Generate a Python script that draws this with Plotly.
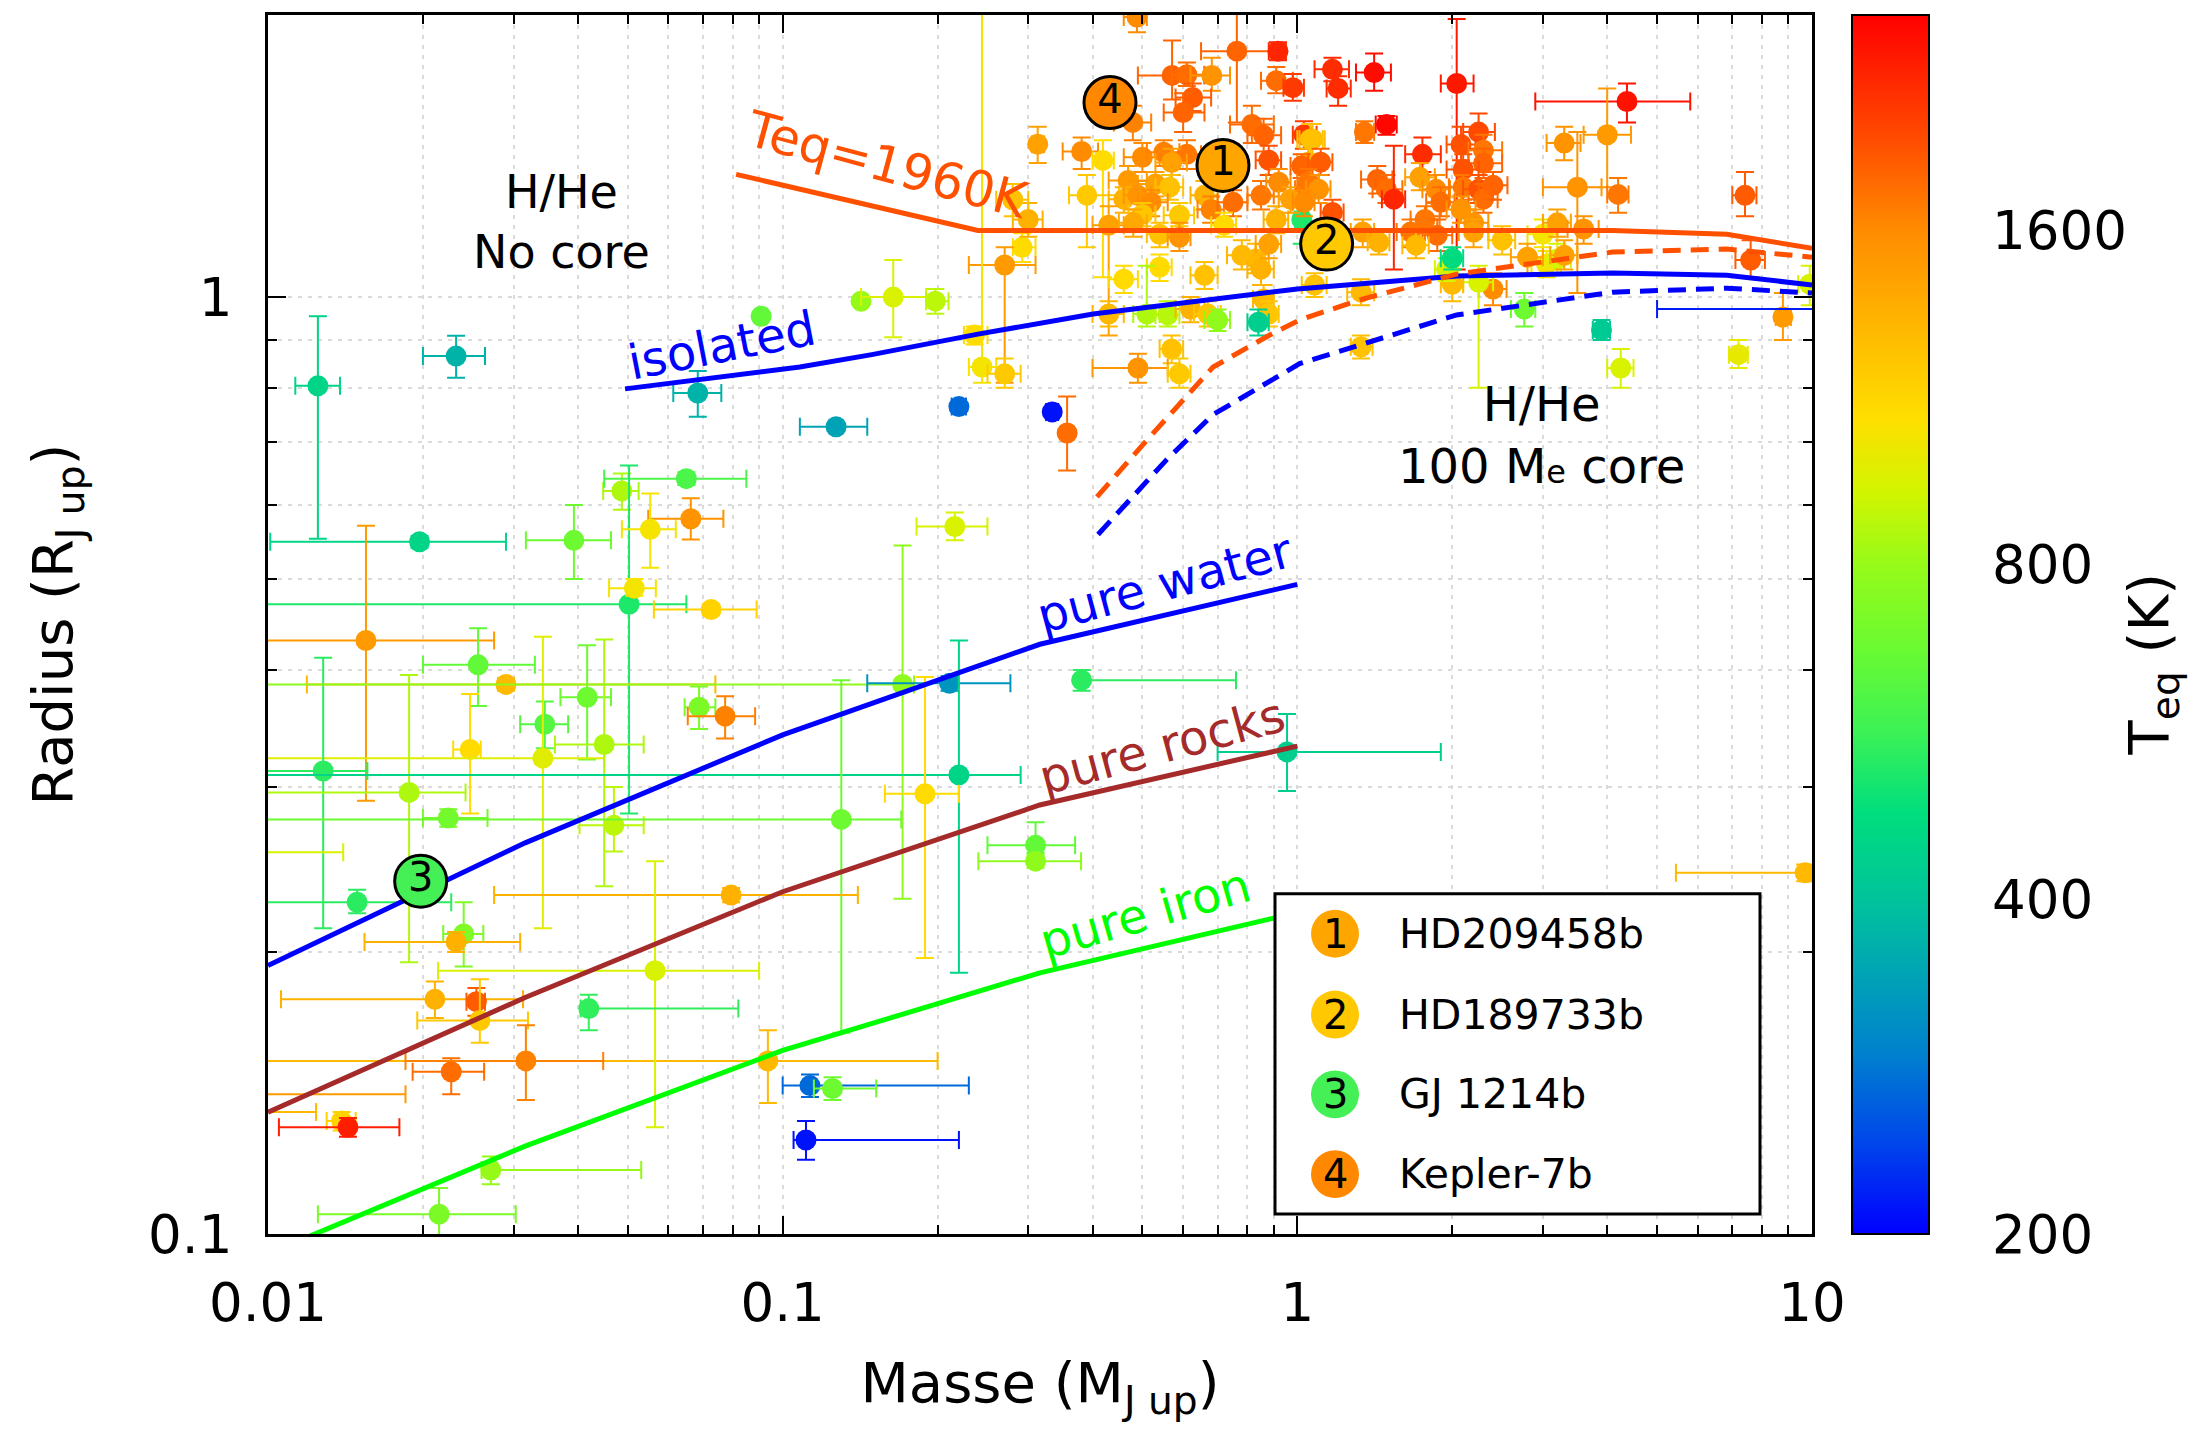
import numpy as np
import plotly.graph_objects as go
from plotly.colors import sample_colorscale

# ---------------- ticks / ranges ----------------
x_tickvals = [0.01, 0.1, 1, 10]
x_ticktext = ["0.01", "0.1", "1", "10"]
x_minor = [a * b for b in (0.01, 0.1, 1) for a in range(2, 10)]
y_tickvals = [0.1, 1]
y_ticktext = ["0.1", "1"]
y_minor = [0.2, 0.3, 0.4, 0.5, 0.6, 0.7, 0.8, 0.9, 2.0]
teq_ticks = [200, 400, 800, 1600]
teq_min, teq_max = 200, 2500

# ---------------- model curves ----------------
teq1960_mass = [0.0812, 0.149, 0.2395, 1.0, 4.10, 6.83, 10.0]
teq1960_radius = [1.352, 1.253, 1.178, 1.178, 1.178, 1.167, 1.127]
isolated_mass = [0.0494, 0.108, 0.149, 0.2395, 0.401, 1.0, 2.04, 4.10, 6.83, 10.0]
isolated_radius = [0.798, 0.842, 0.868, 0.913, 0.959, 1.02, 1.053, 1.061, 1.055, 1.03]
core_hot_mass = [0.408, 0.513, 0.686, 0.884, 1.01, 1.32, 2.04, 4.10, 6.83, 10.0]
core_hot_radius = [0.612, 0.706, 0.842, 0.911, 0.945, 0.993, 1.058, 1.117, 1.125, 1.103]
core_iso_mass = [0.41, 0.558, 0.686, 1.01, 2.04, 4.10, 6.83, 10.0]
core_iso_radius = [0.558, 0.671, 0.749, 0.849, 0.957, 1.012, 1.022, 1.01]
water_mass = [0.01, 0.0316, 0.1, 0.316, 1.0]
water_radius = [0.1934, 0.2615, 0.341, 0.426, 0.4935]
rocks_mass = [0.01, 0.0316, 0.1, 0.316, 1.0]
rocks_radius = [0.1349, 0.1788, 0.2319, 0.287, 0.3317]
iron_mass = [0.01, 0.0316, 0.1, 0.316, 1.0]
iron_radius = [0.0953, 0.1241, 0.157, 0.190, 0.2203]

# ---------------- highlighted planets ----------------
highlight_labels = ["1", "2", "3", "4"]
highlight_names = ["HD209458b", "HD189733b", "GJ 1214b", "Kepler-7b"]
highlight_mass = [0.717, 1.14, 0.0198, 0.4325]
highlight_radius = [1.382, 1.139, 0.238, 1.613]
highlight_colors = ["#FFA500", "#FFC800", "#44F055", "#FF8800"]

# ---------------- planets: (mass, mass_lo, mass_hi, radius, r_lo, r_hi, Teq) ----------------
planets_upper_left = [
    (0.0125, 0.0113, 0.0138, 0.804, 0.552, 0.954, 450),
    (0.0232, 0.020, 0.0264, 0.865, 0.820, 0.909, 370),
    (0.0908, 0.089, 0.093, 0.954, 0.945, 0.963, 650),
    (0.0684, 0.0613, 0.0760, 0.790, 0.745, 0.834, 370),
]
planets_giants_a = [
    (0.488, 0.46, 0.51, 1.99, 1.917, 2.05, 1600),
    (0.763, 0.65, 0.89, 1.83, 1.536, 2.1, 1800),
    (0.917, 0.88, 0.95, 1.83, 1.79, 1.87, 2200),
    (0.571, 0.49, 0.66, 1.724, 1.625, 1.878, 1800),
    (0.61, 0.57, 0.66, 1.727, 1.68, 1.78, 1750),
    (0.682, 0.62, 0.74, 1.724, 1.66, 1.80, 1550),
    (0.626, 0.58, 0.68, 1.633, 1.58, 1.69, 1850),
    (0.60, 0.55, 0.66, 1.574, 1.50, 1.65, 1800),
    (0.91, 0.85, 0.98, 1.702, 1.65, 1.76, 1750),
    (0.98, 0.94, 1.03, 1.673, 1.62, 1.73, 2050),
    (0.479, 0.44, 0.52, 1.536, 1.47, 1.60, 1650),
    (0.816, 0.74, 0.90, 1.528, 1.46, 1.60, 1750),
    (0.86, 0.80, 0.93, 1.488, 1.43, 1.55, 1800),
    (1.03, 0.98, 1.09, 1.49, 1.44, 1.54, 2050),
    (1.07, 1.01, 1.13, 1.474, 1.42, 1.53, 1300),
    (0.313, 0.305, 0.322, 1.456, 1.39, 1.52, 1450),
    (0.381, 0.35, 0.41, 1.43, 1.37, 1.48, 1600),
    (0.419, 0.40, 0.44, 1.399, 1.05, 1.47, 1100),
    (0.50, 0.46, 0.54, 1.41, 1.36, 1.46, 1600),
    (0.55, 0.51, 0.59, 1.427, 1.38, 1.47, 1650),
    (0.61, 0.57, 0.65, 1.42, 1.37, 1.47, 1700),
    (0.57, 0.53, 0.61, 1.392, 1.35, 1.44, 1450),
    (0.469, 0.43, 0.51, 1.332, 1.29, 1.38, 1500),
    (0.53, 0.49, 0.57, 1.32, 1.28, 1.36, 1450),
    (0.565, 0.53, 0.60, 1.31, 1.27, 1.35, 1250),
    (0.39, 0.36, 0.45, 1.284, 1.13, 1.35, 1200),
    (0.46, 0.43, 0.49, 1.272, 1.23, 1.31, 1350),
    (0.49, 0.46, 0.52, 1.284, 1.24, 1.33, 1550),
    (0.52, 0.49, 0.56, 1.262, 1.22, 1.30, 1600),
    (0.66, 0.62, 0.70, 1.284, 1.24, 1.33, 1350),
    (0.68, 0.64, 0.72, 1.24, 1.20, 1.28, 1650),
    (0.75, 0.70, 0.80, 1.262, 1.22, 1.30, 1750),
    (0.85, 0.80, 0.90, 1.284, 1.24, 1.33, 1700),
    (0.59, 0.55, 0.63, 1.223, 1.19, 1.26, 1200),
    (0.50, 0.47, 0.53, 1.225, 1.19, 1.26, 1220),
    (0.43, 0.40, 0.46, 1.193, 0.91, 1.25, 1450),
    (0.48, 0.45, 0.51, 1.20, 1.16, 1.24, 1400),
    (0.54, 0.51, 0.57, 1.167, 1.13, 1.20, 1250),
    (0.59, 0.56, 0.62, 1.158, 1.12, 1.20, 1550),
    (0.72, 0.68, 0.76, 1.193, 1.16, 1.23, 1100),
    (0.91, 0.86, 0.96, 1.21, 1.17, 1.25, 1350),
    (1.02, 0.99, 1.05, 1.21, 1.14, 1.27, 520),
    (0.292, 0.28, 0.31, 1.13, 1.09, 1.17, 1100),
    (0.30, 0.28, 0.32, 1.21, 1.16, 1.26, 1350),
    (0.28, 0.26, 0.30, 1.27, 1.22, 1.32, 1250),
    (0.27, 0.23, 0.31, 1.082, 0.81, 1.13, 1500),
    (0.54, 0.51, 0.57, 1.076, 1.04, 1.11, 1100),
    (0.46, 0.43, 0.49, 1.045, 1.01, 1.08, 1100),
    (0.66, 0.62, 0.70, 1.055, 1.02, 1.09, 1250),
    (0.78, 0.73, 0.83, 1.108, 1.07, 1.15, 1300),
    (0.83, 0.78, 0.88, 1.098, 1.06, 1.14, 1300),
    (0.85, 0.80, 0.90, 1.071, 1.03, 1.11, 1350),
    (0.88, 0.83, 0.93, 1.139, 1.10, 1.18, 1450),
    (0.86, 0.82, 0.90, 0.995, 0.96, 1.03, 1300),
    (0.88, 0.84, 0.92, 0.959, 0.93, 0.99, 1220),
    (0.43, 0.40, 0.46, 0.959, 0.93, 0.99, 1300),
    (0.51, 0.48, 0.54, 0.959, 0.93, 1.08, 850),
    (0.56, 0.53, 0.59, 0.957, 0.93, 0.99, 870),
    (0.62, 0.58, 0.66, 0.971, 0.94, 1.00, 1350),
    (0.67, 0.63, 0.71, 0.959, 0.93, 0.99, 1220),
    (0.70, 0.66, 0.74, 0.945, 0.92, 0.97, 780),
    (0.84, 0.80, 0.88, 0.94, 0.91, 0.97, 430),
    (0.142, 0.139, 0.145, 0.99, 0.985, 0.995, 800),
    (0.164, 0.142, 0.190, 1.0, 0.906, 1.095, 950),
    (0.198, 0.19, 0.21, 0.99, 0.96, 1.02, 880),
    (0.57, 0.54, 0.60, 0.88, 0.85, 0.91, 1250),
    (0.49, 0.40, 0.56, 0.84, 0.81, 0.87, 1550),
    (0.59, 0.56, 0.62, 0.828, 0.80, 0.86, 1200),
    (0.244, 0.23, 0.26, 0.842, 0.81, 2.2, 1050),
    (0.27, 0.25, 0.29, 0.828, 0.80, 0.86, 1200),
    (0.236, 0.225, 0.25, 0.911, 0.89, 0.93, 1100),
    (0.88, 0.83, 0.93, 1.40, 1.35, 1.45, 1900),
    (0.92, 0.87, 0.97, 1.326, 1.28, 1.37, 1600),
    (1.05, 1.0, 1.1, 1.393, 1.35, 1.44, 1350),
    (1.04, 0.99, 1.09, 1.303, 1.26, 1.35, 1700),
    (0.97, 0.92, 1.02, 1.272, 1.23, 1.31, 1450),
]
planets_giants_b = [
    (1.17, 1.08, 1.26, 1.75, 1.70, 1.80, 2150),
    (1.20, 1.14, 1.27, 1.67, 1.60, 1.72, 2150),
    (1.41, 1.30, 1.52, 1.736, 1.66, 1.82, 2400),
    (2.04, 1.90, 2.20, 1.69, 1.07, 1.98, 2300),
    (4.37, 2.90, 5.80, 1.617, 1.536, 1.69, 2350),
    (1.49, 1.42, 1.56, 1.528, 1.49, 1.56, 2450),
    (1.35, 1.30, 1.41, 1.50, 1.46, 1.54, 1700),
    (1.06, 1.0, 1.12, 1.474, 1.42, 1.53, 1250),
    (1.75, 1.62, 1.90, 1.42, 1.36, 1.48, 2150),
    (2.08, 1.95, 2.22, 1.455, 1.40, 1.52, 1900),
    (2.25, 2.10, 2.42, 1.50, 1.44, 1.57, 1950),
    (2.3, 2.15, 2.5, 1.434, 1.37, 1.49, 1700),
    (2.3, 2.15, 2.5, 1.389, 1.34, 1.44, 1800),
    (2.1, 1.95, 2.25, 1.368, 1.32, 1.42, 1900),
    (1.43, 1.33, 1.53, 1.335, 1.29, 1.38, 1800),
    (1.49, 1.40, 1.60, 1.303, 1.26, 1.35, 1750),
    (1.54, 1.46, 1.62, 1.272, 1.07, 1.45, 2200),
    (1.73, 1.62, 1.85, 1.342, 1.30, 1.39, 1450),
    (1.86, 1.75, 1.98, 1.303, 1.26, 1.35, 1600),
    (1.9, 1.78, 2.02, 1.262, 1.22, 1.31, 1750),
    (2.1, 1.97, 2.24, 1.31, 1.27, 1.35, 1700),
    (2.25, 2.1, 2.4, 1.303, 1.26, 1.35, 1900),
    (2.3, 2.15, 2.45, 1.272, 1.23, 1.32, 1750),
    (2.4, 2.25, 2.56, 1.316, 1.27, 1.36, 1800),
    (2.08, 1.95, 2.22, 1.24, 1.20, 1.28, 1550),
    (1.77, 1.66, 1.89, 1.21, 1.17, 1.25, 1700),
    (2.2, 2.06, 2.35, 1.20, 1.16, 1.24, 1550),
    (1.66, 1.56, 1.77, 1.173, 1.13, 1.21, 1700),
    (1.87, 1.75, 2.0, 1.164, 1.12, 1.21, 1750),
    (1.7, 1.6, 1.8, 1.136, 1.10, 1.18, 1300),
    (2.2, 2.06, 2.35, 1.173, 1.13, 1.21, 1450),
    (2.5, 2.35, 2.65, 1.15, 1.11, 1.19, 1250),
    (3.0, 2.8, 3.2, 1.167, 1.13, 1.21, 1050),
    (3.2, 3.0, 3.4, 1.2, 1.16, 1.24, 1450),
    (3.6, 3.35, 3.85, 1.182, 1.14, 1.22, 1550),
    (3.5, 3.0, 3.9, 1.31, 1.01, 1.5, 1550),
    (3.3, 3.05, 3.55, 1.46, 1.40, 1.52, 1550),
    (4.0, 3.6, 4.45, 1.49, 1.31, 1.67, 1500),
    (4.2, 4.0, 4.4, 1.287, 1.23, 1.34, 1700),
    (7.41, 7.0, 7.8, 1.284, 1.22, 1.36, 1850),
    (7.6, 7.1, 8.1, 1.095, 1.05, 1.15, 1850),
    (9.9, 9.4, 10.4, 1.032, 0.98, 1.08, 950),
    (8.78, 8.5, 9.1, 0.952, 0.90, 1.01, 1500),
    (7.2, 6.9, 7.5, 0.868, 0.84, 0.90, 1000),
    (4.25, 4.0, 4.5, 0.84, 0.80, 0.88, 950),
    (3.9, 3.75, 4.05, 0.922, 0.90, 0.945, 420),
    (2.76, 2.6, 2.9, 0.971, 0.93, 1.01, 680),
    (2.4, 2.25, 2.55, 1.02, 0.98, 1.06, 1600),
    (2.25, 2.1, 2.4, 1.037, 0.80, 1.08, 950),
    (2.0, 1.9, 2.1, 1.032, 0.99, 1.07, 1300),
    (1.95, 1.85, 2.05, 1.071, 1.04, 1.10, 950),
    (2.0, 1.9, 2.1, 1.10, 1.07, 1.13, 470),
    (1.33, 1.25, 1.41, 1.012, 0.98, 1.045, 1300),
    (1.08, 1.02, 1.14, 1.03, 1.0, 1.06, 1250),
    (1.33, 1.27, 1.40, 0.885, 0.86, 0.91, 1250),
    (3.05, 2.85, 3.25, 1.084, 1.05, 1.12, 1050),
    (3.2, 3.0, 3.4, 1.098, 1.06, 1.14, 950),
    (3.3, 3.1, 3.5, 1.108, 1.07, 1.15, 1450),
    (2.8, 2.6, 3.0, 1.103, 1.06, 1.14, 1450),
    (1.02, 0.97, 1.07, 1.38, 1.34, 1.42, 1800),
    (1.11, 1.05, 1.17, 1.393, 1.35, 1.44, 1850),
    (1.05, 1.0, 1.1, 1.326, 1.29, 1.37, 1700),
    (1.10, 1.04, 1.16, 1.303, 1.26, 1.35, 1550),
    (1.03, 0.98, 1.08, 1.262, 1.22, 1.30, 1600),
    (1.17, 1.11, 1.23, 1.231, 1.19, 1.27, 1900),
    (1.34, 1.27, 1.41, 1.173, 1.13, 1.21, 1450),
    (1.44, 1.37, 1.51, 1.144, 1.11, 1.18, 1350),
    (12.0, 5.0, 13.0, 0.971, 0.965, 0.977, 215),
    (9.7, 5.44, 10.2, 0.243, 0.238, 0.248, 1300),
]
planets_mid_small = [
    (0.0197, 0.0101, 0.029, 0.548, 0.54, 0.556, 450),
    (0.0393, 0.0317, 0.0464, 0.55, 0.50, 0.60, 680),
    (0.0487, 0.0448, 0.0525, 0.621, 0.593, 0.648, 850),
    (0.065, 0.045, 0.085, 0.64, 0.63, 0.65, 600),
    (0.0503, 0.005, 0.065, 0.47, 0.281, 0.661, 520),
    (0.0663, 0.0548, 0.0767, 0.58, 0.551, 0.61, 1550),
    (0.0553, 0.0487, 0.062, 0.565, 0.514, 0.617, 1050),
    (0.0515, 0.046, 0.0567, 0.489, 0.48, 0.50, 1050),
    (0.0726, 0.0562, 0.089, 0.464, 0.458, 0.470, 1150),
    (0.0155, 0.009, 0.0275, 0.43, 0.29, 0.57, 1500),
    (0.0256, 0.02, 0.033, 0.405, 0.366, 0.443, 650),
    (0.029, 0.0119, 0.074, 0.386, 0.38, 0.392, 1300),
    (0.0417, 0.037, 0.0464, 0.374, 0.321, 0.425, 680),
    (0.0345, 0.0309, 0.0383, 0.35, 0.33, 0.37, 620),
    (0.0247, 0.0229, 0.0259, 0.329, 0.281, 0.377, 1100),
    (0.0342, 0.005, 0.045, 0.322, 0.212, 0.434, 980),
    (0.045, 0.0361, 0.0537, 0.333, 0.235, 0.431, 850),
    (0.0688, 0.0645, 0.074, 0.365, 0.346, 0.384, 720),
    (0.0773, 0.0654, 0.0884, 0.357, 0.338, 0.375, 1650),
    (0.0128, 0.005, 0.0156, 0.312, 0.212, 0.412, 540),
    (0.0188, 0.005, 0.0242, 0.296, 0.195, 0.395, 850),
    (0.0224, 0.020, 0.0267, 0.278, 0.272, 0.284, 700),
    (0.047, 0.0403, 0.0537, 0.273, 0.256, 0.30, 880),
    (0.008, 0.005, 0.014, 0.2555, 0.253, 0.258, 950),
]
planets_mid_large = [
    (0.127, 0.108, 0.146, 0.727, 0.72, 0.734, 340),
    (0.22, 0.213, 0.227, 0.764, 0.757, 0.771, 270),
    (0.334, 0.325, 0.343, 0.754, 0.747, 0.761, 210),
    (0.357, 0.35, 0.364, 0.716, 0.653, 0.783, 1750),
    (0.216, 0.182, 0.25, 0.569, 0.55, 0.589, 950),
    (0.171, 0.005, 0.18, 0.386, 0.228, 0.543, 780),
    (0.211, 0.146, 0.277, 0.387, 0.38, 0.394, 320),
    (0.381, 0.375, 0.76, 0.390, 0.38, 0.40, 540),
    (0.22, 0.005, 0.29, 0.309, 0.19, 0.43, 450),
    (0.189, 0.158, 0.22, 0.295, 0.197, 0.393, 1100),
    (0.13, 0.005, 0.17, 0.277, 0.164, 0.39, 680),
    (0.955, 0.70, 1.9, 0.327, 0.297, 0.359, 430),
    (0.31, 0.25, 0.37, 0.26, 0.255, 0.275, 650),
    (0.31, 0.24, 0.38, 0.25, 0.246, 0.254, 780),
    (0.113, 0.10, 0.23, 0.144, 0.14, 0.148, 270),
    (0.125, 0.115, 0.152, 0.143, 0.139, 0.147, 680),
    (0.111, 0.105, 0.22, 0.126, 0.12, 0.132, 210),
    (0.0936, 0.005, 0.2, 0.153, 0.138, 0.165, 1300),
]
planets_low = [
    (0.0149, 0.005, 0.0227, 0.226, 0.22, 0.233, 540),
    (0.024, 0.0219, 0.0262, 0.209, 0.193, 0.226, 730),
    (0.0232, 0.0154, 0.0309, 0.205, 0.20, 0.21, 1350),
    (0.0794, 0.0275, 0.14, 0.23, 0.226, 0.234, 1350),
    (0.0565, 0.0214, 0.09, 0.191, 0.13, 0.25, 950),
    (0.0211, 0.0106, 0.0313, 0.178, 0.17, 0.186, 1350),
    (0.0254, 0.0243, 0.0264, 0.177, 0.171, 0.183, 1850),
    (0.0258, 0.0195, 0.032, 0.169, 0.16, 0.187, 1200),
    (0.042, 0.0405, 0.082, 0.174, 0.165, 0.18, 550),
    (0.0227, 0.0191, 0.0263, 0.149, 0.141, 0.154, 1750),
    (0.0317, 0.0185, 0.0448, 0.153, 0.139, 0.167, 1650),
    (0.0139, 0.013, 0.0148, 0.132, 0.129, 0.135, 1150),
    (0.0143, 0.0105, 0.018, 0.13, 0.127, 0.133, 2250),
    (0.0271, 0.026, 0.0531, 0.117, 0.113, 0.121, 800),
    (0.0215, 0.0125, 0.0303, 0.105, 0.098, 0.112, 720),
    (0.008, 0.005, 0.0185, 0.141, 0.1405, 0.1415, 1500),
    (0.008, 0.005, 0.0124, 0.135, 0.1345, 0.1355, 1300),
]

# ---------------- colour scale (log Teq) ----------------
teq_colorscale = [
    [0.0, "rgb(0,0,255)"], [0.075, "rgb(0,70,235)"], [0.15, "rgb(0,130,205)"],
    [0.216, "rgb(0,165,180)"], [0.274, "rgb(0,195,155)"], [0.346, "rgb(0,222,125)"],
    [0.4125, "rgb(60,242,85)"], [0.4785, "rgb(105,250,50)"], [0.549, "rgb(150,250,25)"],
    [0.609, "rgb(210,245,0)"], [0.67, "rgb(255,222,0)"], [0.741, "rgb(255,185,0)"],
    [0.823, "rgb(255,140,0)"], [0.905, "rgb(255,70,0)"], [1.0, "rgb(255,0,0)"],
]
lmin, lmax = np.log10(teq_min), np.log10(teq_max)


def teq_frac(t):
    return float(np.clip((np.log10(t) - lmin) / (lmax - lmin), 0, 1))


fig = go.Figure()

all_planets = (planets_upper_left + planets_giants_a + planets_giants_b
               + planets_mid_small + planets_mid_large + planets_low)
for (m, mlo, mhi, r, rlo, rhi, t) in all_planets:
    c = sample_colorscale(teq_colorscale, [teq_frac(t)])[0]
    fig.add_trace(go.Scatter(
        x=[m], y=[r], mode="markers",
        marker=dict(size=21, color=c, line=dict(width=0)),
        error_x=dict(type="data", symmetric=False, array=[mhi - m], arrayminus=[m - mlo],
                     color=c, thickness=2, width=9),
        error_y=dict(type="data", symmetric=False, array=[rhi - r], arrayminus=[r - rlo],
                     color=c, thickness=2, width=9),
        hoverinfo="skip", showlegend=False))

# colour bar carrier (points lie outside the axes range)
fig.add_trace(go.Scatter(
    x=[1e-4, 1e-4], y=[1e-3, 1e-3], mode="markers", showlegend=False, hoverinfo="skip",
    marker=dict(color=[lmin, lmax], colorscale=teq_colorscale, cmin=lmin, cmax=lmax,
                showscale=True,
                colorbar=dict(
                    x=1.0259, xanchor="left", xpad=0, y=0.5, yanchor="middle", ypad=0,
                    len=1, lenmode="fraction", thickness=77, thicknessmode="pixels",
                    outlinewidth=2, outlinecolor="black",
                    tickvals=[np.log10(v) for v in teq_ticks],
                    ticktext=[str(v) for v in teq_ticks],
                    ticks="outside", ticklen=52, tickcolor="rgba(0,0,0,0)",
                    tickfont=dict(size=53, family="DejaVu Sans", color="black")))))

# model curves
def line(xs, ys, color, dash="solid"):
    fig.add_trace(go.Scatter(x=xs, y=ys, mode="lines", hoverinfo="skip", showlegend=False,
                             line=dict(color=color, width=5, dash=dash)))

line(teq1960_mass, teq1960_radius, "#FF5000")
line(isolated_mass, isolated_radius, "#0000FF")
line(core_hot_mass, core_hot_radius, "#FF5000", "18px,10px")
line(core_iso_mass, core_iso_radius, "#0000FF", "18px,10px")
line(water_mass, water_radius, "#0000FF")
line(rocks_mass, rocks_radius, "#A52A2A")
line(iron_mass, iron_radius, "#00FF00")

# highlighted planets
fig.add_trace(go.Scatter(
    x=highlight_mass, y=highlight_radius, mode="markers+text", text=highlight_labels,
    textposition="middle center", textfont=dict(size=40, color="black", family="DejaVu Sans"),
    marker=dict(size=52, color=highlight_colors, line=dict(color="black", width=3)),
    hoverinfo="skip", showlegend=False))

# annotations
font_fam = "DejaVu Sans"
ann = []
def label(text, x, y, color, angle=0, size=48):
    ann.append(dict(text=text, x=np.log10(x), y=np.log10(y), xref="x", yref="y",
                    xanchor="center", yanchor="middle",
                    showarrow=False, textangle=angle,
                    font=dict(size=size, color=color, family=font_fam)))

label("Teq=1960K", 0.160, 1.382, "#FF5000", 15, 50)
label("isolated", 0.0762, 0.889, "#0000FF", -11)
label("pure water", 0.553, 0.495, "#0000FF", -15)
label("pure rocks", 0.545, 0.332, "#A52A2A", -15)
label("pure iron", 0.506, 0.2203, "#00FF00", -16)
label("H/He<br>No core", 0.0371, 1.202, "black", 0, 46)
label("H/He<br>100 M<span style='font-size:32px'>e</span> core", 2.98, 0.713, "black", 0, 48)

# legend box (paper coordinates)
plot_w, plot_h = 1544.0, 1222.0
def px(xp):
    return (xp - 268) / plot_w
def py(yp):
    return (1234 - yp) / plot_h

shapes = [dict(type="rect", xref="paper", yref="paper", x0=px(1275), x1=px(1760),
               y0=py(1214), y1=py(893), line=dict(color="black", width=3),
               fillcolor="white", layer="above")]
rows_y = [933, 1014, 1094, 1174]
rr = 24
for i, yy in enumerate(rows_y):
    shapes.append(dict(type="circle", xref="paper", yref="paper",
                       x0=px(1335 - rr), x1=px(1335 + rr), y0=py(yy + rr), y1=py(yy - rr),
                       fillcolor=highlight_colors[i], line=dict(width=0), layer="above"))
    ann.append(dict(text=highlight_labels[i], x=px(1335), y=py(yy), xref="paper", yref="paper",
                    xanchor="center", yanchor="middle",
                    showarrow=False, font=dict(size=40, color="black", family=font_fam)))
    ann.append(dict(text=highlight_names[i], x=px(1397), y=py(yy), xref="paper", yref="paper",
                    xanchor="left", yanchor="middle", showarrow=False,
                    font=dict(size=41, color="black", family=font_fam)))

# colour bar title
ann.append(dict(text="T<sub>eq</sub> (K)", x=px(2152), y=py(663), xref="paper", yref="paper",
                xanchor="center", yanchor="middle", textangle=-90, showarrow=False,
                font=dict(size=56, color="black", family=font_fam)))

# inside tick marks on the colour bar
for v in teq_ticks:
    yy = teq_frac(v)
    for (a, b) in ((1852, 1870), (1911, 1929)):
        shapes.append(dict(type="line", xref="paper", yref="paper", x0=px(a), x1=px(b),
                           y0=yy, y1=yy, line=dict(color="black", width=2)))

grid = dict(showgrid=True, gridcolor="#dadada", gridwidth=1.5, griddash="4px,6px")
axis_common = dict(type="log", showline=True, linecolor="black", linewidth=3,
                   mirror="allticks", ticks="inside", ticklen=18, tickwidth=2,
                   tickcolor="black", zeroline=False,
                   tickfont=dict(size=53, family=font_fam, color="black"), **grid)

fig.update_layout(
    width=2211, height=1430,
    margin=dict(l=268, r=399, t=12, b=196),
    plot_bgcolor="white", paper_bgcolor="white",
    font=dict(family=font_fam, color="black"),
    showlegend=False,
    xaxis=dict(range=[-2, 1], tickvals=x_tickvals, ticktext=x_ticktext,
               ticklabelstandoff=20,
               minor=dict(tickvals=x_minor, ticks="inside", ticklen=9, tickwidth=2,
                          tickcolor="black", **grid),
               title=dict(text="Masse (M<sub>J up</sub>)", standoff=32,
                          font=dict(size=56, family=font_fam, color="black")),
               **axis_common),
    yaxis=dict(range=[-1, np.log10(2.0)], tickvals=y_tickvals, ticktext=y_ticktext,
               ticklabelstandoff=22,
               minor=dict(tickvals=y_minor, ticks="inside", ticklen=9, tickwidth=2,
                          tickcolor="black", **grid),
               title=dict(text="Radius (R<sub>J up</sub>)", standoff=58,
                          font=dict(size=56, family=font_fam, color="black")),
               **axis_common),
    annotations=ann, shapes=shapes,
)

fig.write_html("out.html", config={"displayModeBar": False},
               post_script="document.body.style.margin='0px';")
